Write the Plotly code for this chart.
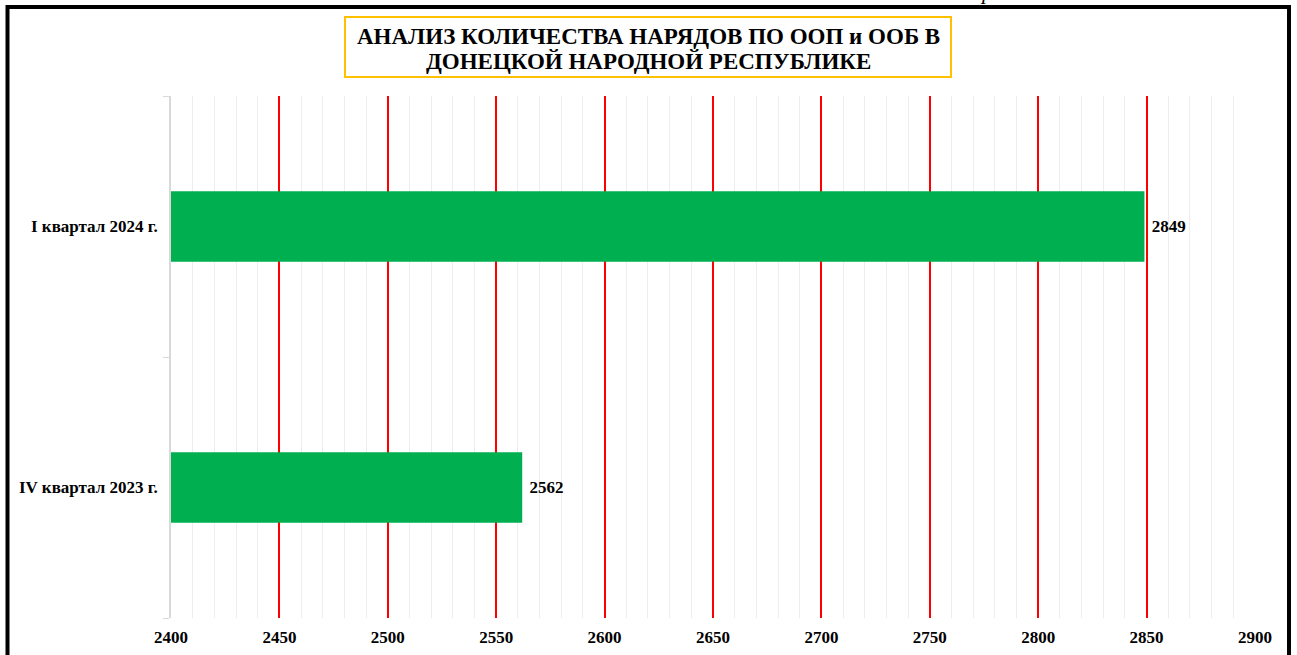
import plotly.graph_objects as go

categories = ["IV квартал 2023 г.", "I квартал 2024 г."]
values = [2562, 2849]
title_lines = ["АНАЛИЗ КОЛИЧЕСТВА НАРЯДОВ ПО ООП и ООБ В", "ДОНЕЦКОЙ НАРОДНОЙ РЕСПУБЛИКЕ"]
x_range = [2400, 2900]

W, H = 1297, 655
L, R, T, B = 171, 42, 96, 37
pw, ph = W - L - R, H - T - B

def px(x):
    return (x - L) / pw

def py(y):
    return (H - B - y) / ph

font = "Liberation Serif, Times New Roman, serif"

fig = go.Figure(go.Bar(
    x=values, y=categories, orientation="h",
    marker=dict(color="#00B050", line=dict(width=0)),
    width=0.27,
    text=values, texttemplate=" %{x}", textposition="outside",
    textfont=dict(family=font, size=17, color="black", weight="bold"),
    cliponaxis=False,
))

fig.update_layout(
    width=W, height=H,
    margin=dict(l=L, r=R, t=T, b=B),
    paper_bgcolor="white", plot_bgcolor="white",
    showlegend=False,
    xaxis=dict(
        range=x_range, dtick=50, tick0=2400,
        showgrid=True, gridcolor="#FF0000", gridwidth=1.5,
        minor=dict(dtick=10, showgrid=True, gridcolor="#EDEDED", gridwidth=1),
        zeroline=False, showline=False, ticks="",
        tickfont=dict(family=font, size=17, color="black", weight="bold"),
        ticklabelstandoff=7,
        automargin=False,
    ),
    yaxis=dict(
        showgrid=False, zeroline=False,
        showline=True, linecolor="#D9D9D9", linewidth=1.5,
        ticks="outside", tickson="boundaries", ticklen=6, tickcolor="#D9D9D9",
        tickfont=dict(family=font, size=17, color="black", weight="bold"),
        ticklabelstandoff=8,
        automargin=False,
    ),
    shapes=[
        dict(type="rect", xref="paper", yref="paper",
             x0=px(7.5), x1=px(1289), y0=py(7), y1=py(720),
             line=dict(color="black", width=4), fillcolor="rgba(0,0,0,0)", layer="above"),
        dict(type="rect", xref="paper", yref="paper",
             x0=px(345), x1=px(951), y0=py(77), y1=py(17),
             line=dict(color="#FFC000", width=2), fillcolor="white", layer="above"),
    ],
    annotations=[
        dict(text="<b>" + title_lines[0] + "</b>", xref="paper", yref="paper",
             x=px(648), y=py(37), showarrow=False, xanchor="center", yanchor="middle",
             font=dict(family=font, size=23, color="black")),
        dict(text="<b>" + title_lines[1] + "</b>", xref="paper", yref="paper",
             x=px(648), y=py(62), showarrow=False, xanchor="center", yanchor="middle",
             font=dict(family=font, size=23, color="black")),
        dict(text="<i>р</i>", xref="paper", yref="paper",
             x=px(986), y=py(-9), showarrow=False, xanchor="center", yanchor="middle",
             font=dict(family=font, size=22, color="black")),
    ],
)

fig.write_html("out.html", config={"displayModeBar": False},
               post_script="document.body.style.margin='0px';")
